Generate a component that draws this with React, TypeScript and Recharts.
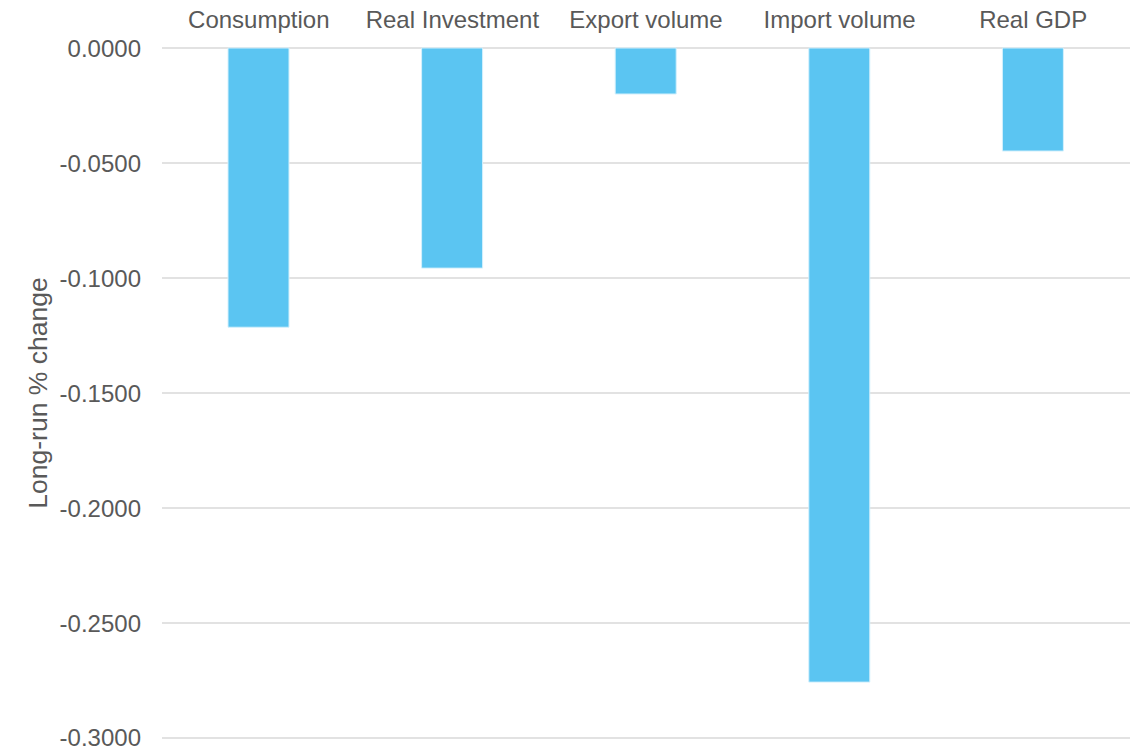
import { BarChart, Bar, XAxis, YAxis, CartesianGrid } from "recharts";

const categories = ["Consumption", "Real Investment", "Export volume", "Import volume", "Real GDP"];
const changes = [-0.1214, -0.0957, -0.02, -0.2757, -0.0448];
const yTicks = [0, -0.05, -0.1, -0.15, -0.2, -0.25, -0.3];

const data = categories.map((name, i) => ({ name, value: changes[i] }));

const tickStyle = { fill: "#595959", fontSize: 24, fontFamily: "'Liberation Sans', Arial, sans-serif" };

export default function App() {
  return (
    <div style={{ width: 1140, height: 751, background: "#fff" }}>
      <style>{"body{margin:0}"}</style>
      <BarChart width={1140} height={751} data={data} margin={{ top: 18, right: 10, bottom: 13, left: 0 }}>
        <CartesianGrid vertical={false} stroke="#d9d9d9" strokeWidth={1.5} />
        <XAxis
          dataKey="name"
          orientation="top"
          axisLine={false}
          tickLine={false}
          tickSize={0}
          tickMargin={20}
          height={30}
          interval={0}
          tick={tickStyle}
        />
        <YAxis
          domain={[-0.3, 0]}
          ticks={yTicks}
          width={162}
          axisLine={false}
          tickLine={false}
          tickSize={0}
          tickMargin={21}
          tick={tickStyle}
          tickFormatter={(v: number) => (v === 0 ? "0.0000" : v.toFixed(4))}
          label={{
            value: "Long-run % change",
            angle: -90,
            position: "insideLeft",
            offset: 38,
            style: { ...tickStyle, fontSize: 26.5, textAnchor: "middle" },
          }}
        />
        <Bar dataKey="value" fill="#5BC5F2" stroke="#d4f0fc" strokeWidth={1} barSize={61} isAnimationActive={false} />
      </BarChart>
    </div>
  );
}
